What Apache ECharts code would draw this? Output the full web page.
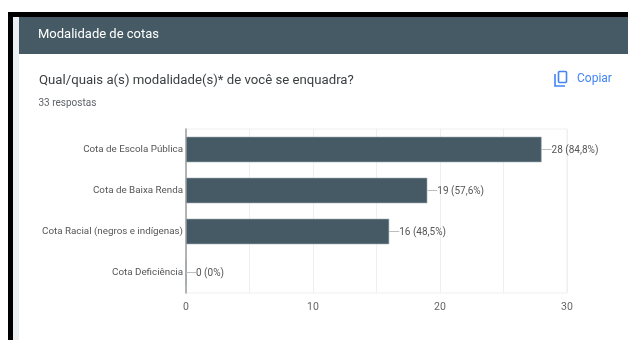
<!DOCTYPE html>
<html>
<head>
<meta charset="utf-8">
<style>
  html, body { margin: 0; padding: 0; background: #fff; }
  #chart { width: 628px; height: 340px; }
</style>
<script src="https://cdn.jsdelivr.net/npm/echarts@6/dist/echarts.min.js"></script>
</head>
<body>
<div id="chart"></div>
<script>
// Survey answers for the quota question
const categories = ['Cota de Escola Pública', 'Cota de Baixa Renda', 'Cota Racial (negros e indígenas)', 'Cota Deficiência'];
const counts = [28, 19, 16, 0];
const percentLabels = ['84,8%', '57,6%', '48,5%', '0%'];
const axisTicks = [0, 10, 20, 30];

const sectionTitle = 'Modalidade de cotas';
const questionTitle = 'Qual/quais a(s) modalidade(s)* de você se enquadra?';
const responseNote = '33 respostas';
const copyLabel = 'Copiar';

const SLATE = '#455a64';
const BLUE = '#4285f4';
const LABEL = '#555555';

const chart = echarts.init(document.getElementById('chart'), null, { renderer: 'canvas' });

chart.setOption({
  animation: false,
  backgroundColor: '#ffffff',
  grid: { left: 186, top: 129, width: 381, height: 164, containLabel: false, show: true, borderColor: '#efefef', borderWidth: 1 },
  xAxis: {
    type: 'value',
    min: 0,
    max: 30,
    interval: 5,
    axisLine: { show: false },
    axisTick: { show: false },
    splitLine: { show: true, lineStyle: { color: '#efefef', width: 1 } },
    axisLabel: {
      color: '#666666',
      fontFamily: 'Roboto',
      fontSize: 10.5,
      margin: 7,
      padding: [2, 0, 0, 0],
      formatter: v => (axisTicks.includes(v) ? String(v) : '')
    }
  },
  yAxis: {
    type: 'category',
    inverse: true,
    data: categories,
    axisLine: { show: true, lineStyle: { color: '#9e9e9e', width: 1.5 } },
    axisTick: { show: false },
    axisLabel: {
      color: LABEL,
      fontFamily: 'Roboto',
      fontSize: 9.8,
      margin: 3,
      padding: [3, 0, 0, 0]
    }
  },
  series: [
    {
      type: 'bar',
      data: counts,
      barWidth: 25.5,
      itemStyle: { color: SLATE, borderColor: '#9aa8b0', borderWidth: 0.6 },
      silent: true
    },
    {
      // Leader line and value text to the right of each bar
      type: 'custom',
      data: counts.map((c, i) => [c, i]),
      encode: { x: 0, y: 1 },
      silent: true,
      z: 5,
      renderItem(params, api) {
        const p = api.coord([api.value(0), api.value(1)]);
        const i = params.dataIndex;
        return {
          type: 'group',
          children: [
            {
              type: 'line',
              shape: { x1: p[0], y1: p[1], x2: p[0] + 10, y2: p[1] },
              style: { stroke: '#bdbdbd', lineWidth: 1 }
            },
            {
              type: 'text',
              style: {
                x: p[0] + 10,
                y: p[1] + 1,
                text: counts[i] + ' (' + percentLabels[i] + ')',
                fill: LABEL,
                font: '10px Roboto',
                align: 'left',
                verticalAlign: 'middle'
              }
            }
          ]
        };
      }
    }
  ],
  graphic: [
    // Window edge and page gutter
    { type: 'rect', z: 10, shape: { x: 8, y: 12, width: 620, height: 5 }, style: { fill: '#000000' } },
    { type: 'rect', z: 10, shape: { x: 8, y: 12, width: 5, height: 328 }, style: { fill: '#000000' } },
    { type: 'rect', z: 10, shape: { x: 13, y: 17, width: 6, height: 323 }, style: { fill: '#eceff1' } },
    // Section header band
    { type: 'rect', z: 10, shape: { x: 19, y: 17, width: 609, height: 37 }, style: { fill: SLATE } },
    { type: 'text', z: 11, style: { x: 38, y: 35, text: sectionTitle, fill: '#ffffff', font: '400 13px Roboto', verticalAlign: 'middle' } },
    // Question heading and response count
    { type: 'text', z: 11, style: { x: 39, y: 81, text: questionTitle, fill: '#3c4043', font: '13.2px Roboto', verticalAlign: 'middle' } },
    { type: 'text', z: 11, style: { x: 38.5, y: 103.5, text: responseNote, fill: '#5f6368', font: '10px Roboto', verticalAlign: 'middle' } },
    // Copy button icon and caption
    { type: 'rect', z: 11, shape: { x: 558.5, y: 71.5, width: 8, height: 11, r: 1 }, style: { fill: 'none', stroke: BLUE, lineWidth: 1.6 } },
    { type: 'polyline', z: 11, shape: { points: [[555, 74], [555, 86], [565, 86]] }, style: { fill: 'none', stroke: BLUE, lineWidth: 1.6 } },
    { type: 'text', z: 11, style: { x: 577, y: 78.5, text: copyLabel, fill: BLUE, font: '400 12px Roboto', verticalAlign: 'middle' } }
  ]
});
</script>
</body>
</html>
